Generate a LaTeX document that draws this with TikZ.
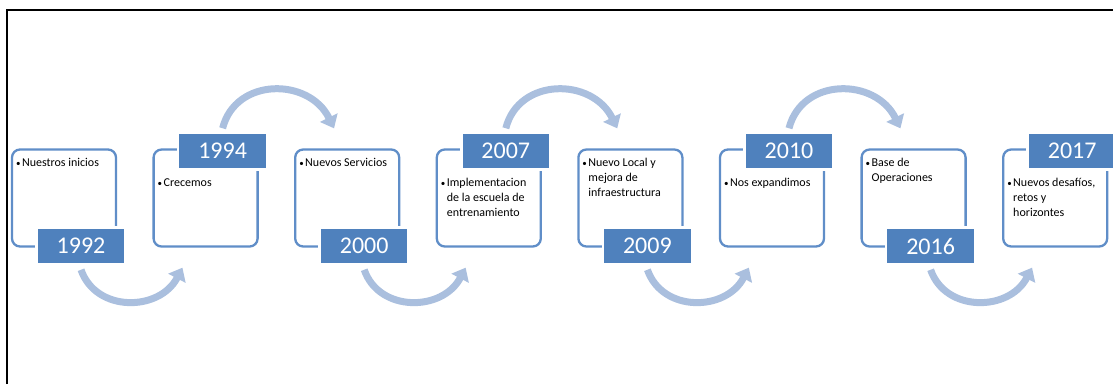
\documentclass[tikz,border=0pt]{standalone}
\usepackage{fontspec}
\setmainfont{Carlito}
\usetikzlibrary{arrows.meta,calc}
\definecolor{yearblue}{RGB}{79,129,189}
\definecolor{panelblue}{RGB}{96,142,200}
\definecolor{flowblue}{RGB}{170,191,222}
\newcommand{\entrytxt}[1]{{\fontsize{9}{9}\selectfont\textbullet}\hspace{1.5pt}\begin{tabular}[t]{@{}l@{}}#1\end{tabular}}

\begin{document}
\begin{tikzpicture}[x=1pt, y=-1pt,
		panel/.style={draw=panelblue, line width=2.3pt, fill=white, rounded corners=8pt,
			minimum width=104pt, minimum height=97pt, inner sep=0pt},
		yearbox/.style={draw=white, line width=2.5pt, fill=yearblue, text=white,
			minimum width=89pt, minimum height=37pt, inner sep=0pt, font=\fontsize{24}{28}\selectfont},
		entry/.style={anchor=base west, inner sep=0pt, font=\fontsize{12}{15}\selectfont},
		flow/.style={draw=flowblue, line width=7pt, -{Triangle[width=19pt,length=12pt]}}]
	\useasboundingbox (0,0) rectangle (1113,384);

	% frame
	\draw[line width=2pt] (7,384) -- (7,9.5) -- (1113,9.5);

	% panels
	\node[panel] (panel1) at (64,198) {};
	\node[panel] (panel2) at (205.6,198) {};
	\node[panel] (panel3) at (347.2,198) {};
	\node[panel] (panel4) at (488.8,198) {};
	\node[panel] (panel5) at (630.4,198) {};
	\node[panel] (panel6) at (772,198) {};
	\node[panel] (panel7) at (913.6,198) {};
	\node[panel] (panel8) at (1055.2,198) {};

	% years
	\node[yearbox] (year1) at (81,246) {1992};
	\node[yearbox] (year2) at (222.6,151) {1994};
	\node[yearbox] (year3) at (364.2,246) {2000};
	\node[yearbox] (year4) at (505.8,151) {2007};
	\node[yearbox] (year5) at (647.4,246) {2009};
	\node[yearbox] (year6) at (789,151) {2010};
	\node[yearbox] (year7) at (930.6,246) {2016};
	\node[yearbox] (year8) at (1072.2,151) {2017};

	% texts
	\node[entry] (txt1) at ($(panel1.north west)+(5,18)$) {\entrytxt{Nuestros inicios}};
	\node[entry] (txt2) at ($(panel2.north west)+(5,38)$) {\entrytxt{Crecemos}};
	\node[entry] (txt3) at ($(panel3.north west)+(5,18)$) {\entrytxt{Nuevos Servicios}};
	\node[entry] (txt4) at ($(panel4.north west)+(5,38)$) {\entrytxt{Implementacion\\de la escuela de\\entrenamiento}};
	\node[entry] (txt5) at ($(panel5.north west)+(5,18)$) {\entrytxt{Nuevo Local y\\mejora de\\infraestructura}};
	\node[entry] (txt6) at ($(panel6.north west)+(5,38)$) {\entrytxt{Nos expandimos}};
	\node[entry] (txt7) at ($(panel7.north west)+(5,18)$) {\entrytxt{Base de\\Operaciones}};
	\node[entry] (txt8) at ($(panel8.north west)+(5,38)$) {\entrytxt{Nuevos desafíos,\\retos y\\horizontes}};

	% arrows below
	\draw[flow] ($(year1.south)+(0,4)$) .. controls +(15,43) and +(-23,44) .. ($(panel2.south west)+(30,20)$);
	\draw[flow] ($(year3.south)+(0,4)$) .. controls +(15,43) and +(-23,44) .. ($(panel4.south west)+(30,20)$);
	\draw[flow] ($(year5.south)+(0,4)$) .. controls +(15,43) and +(-23,44) .. ($(panel6.south west)+(30,20)$);
	\draw[flow] ($(year7.south)+(0,4)$) .. controls +(15,43) and +(-23,44) .. ($(panel8.south west)+(30,20)$);

	% arrows above
	\draw[flow] ($(year2.north)+(0,-3)$) .. controls +(13,-51) and +(-25,-51) .. ($(panel3.north west)+(40,-20)$);
	\draw[flow] ($(year4.north)+(0,-3)$) .. controls +(13,-51) and +(-25,-51) .. ($(panel5.north west)+(40,-20)$);
	\draw[flow] ($(year6.north)+(0,-3)$) .. controls +(13,-51) and +(-25,-51) .. ($(panel7.north west)+(40,-20)$);
\end{tikzpicture}
\end{document}
